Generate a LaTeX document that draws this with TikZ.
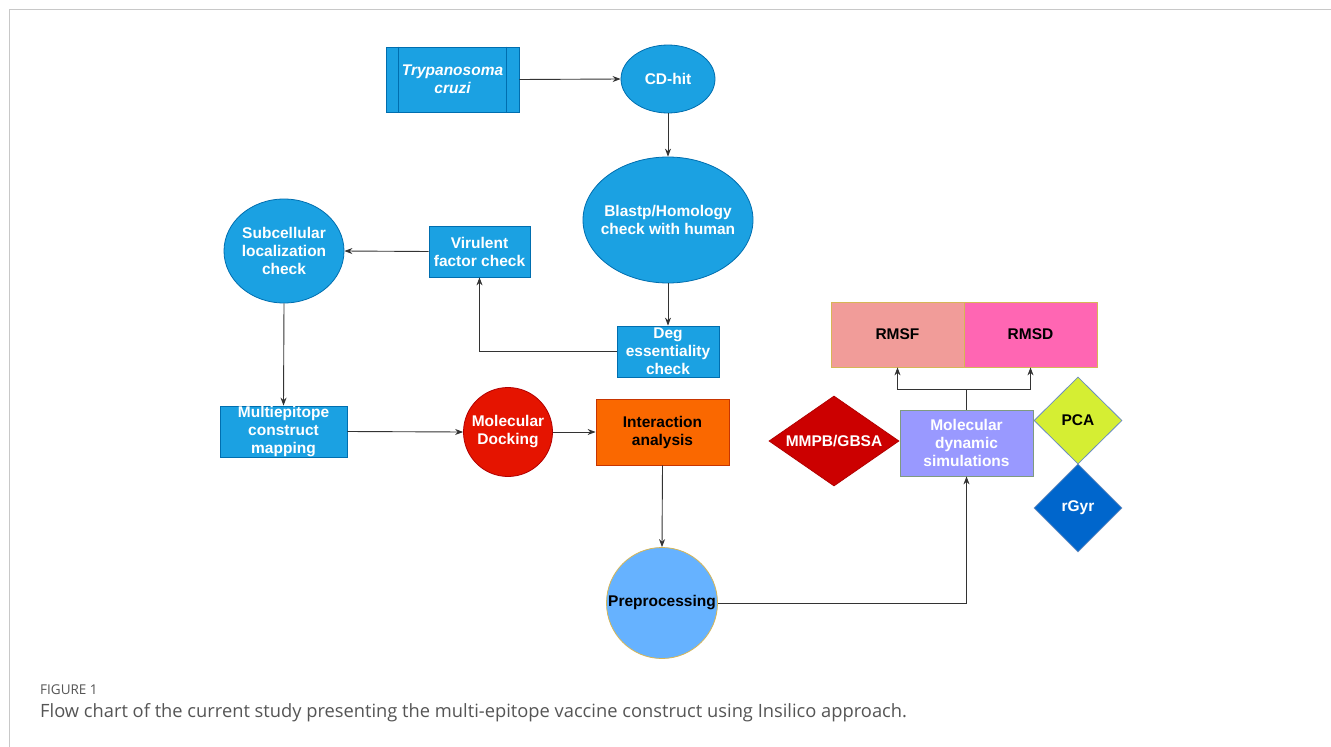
\documentclass[tikz,border=0pt]{standalone}
\usepackage{fontspec}
\setmainfont{Liberation Sans}
\newfontfamily\capfont{Open Sans}
\usetikzlibrary{shapes.geometric,arrows.meta,calc}
\definecolor{dblue}{HTML}{1BA1E2}
\definecolor{dbluel}{HTML}{006EAF}
\definecolor{dred}{HTML}{E51400}
\definecolor{dredl}{HTML}{B20000}
\definecolor{dorange}{HTML}{FA6800}
\definecolor{dorangel}{HTML}{C73500}
\definecolor{dviolet}{HTML}{9999FF}
\definecolor{dviolets}{HTML}{7F9A80}
\definecolor{drmsf}{HTML}{F19C99}
\definecolor{drmsd}{HTML}{FF66B3}
\definecolor{dgold}{HTML}{D6B656}
\definecolor{dmmpb}{HTML}{CC0000}
\definecolor{dpca}{HTML}{D5EE33}
\definecolor{dgyr}{HTML}{0066CC}
\definecolor{dlblue}{HTML}{66B2FF}
\definecolor{dstroke}{HTML}{6C8EBF}
\definecolor{capgray}{HTML}{555555}
\definecolor{framegray}{HTML}{C8C8C8}
\tikzset{
  lbl/.style={font=\bfseries\fontsize{15.5}{18}\selectfont, align=center, inner sep=0pt},
  wbox/.style={lbl, rectangle, draw=dbluel, fill=dblue, text=white, line width=0.8pt},
  wellip/.style={lbl, ellipse, draw=dbluel, fill=dblue, text=white, line width=0.8pt, inner sep=-20pt},
  conn/.style={draw=black!80, line width=0.9pt, -{Stealth[length=8pt,width=6pt]}},
  plain/.style={draw=black!80, line width=0.9pt},
}
\begin{document}
\begin{tikzpicture}[x=1pt,y=-1pt]
\useasboundingbox (0,0) rectangle (1331,747);
\fill[white] (0,0) rectangle (1331,747);
\draw[framegray, line width=1pt] (1331,9) -- (9,9) -- (9,747);

% nodes
\node[wbox, minimum width=133pt, minimum height=65pt] (tc) at (452.5,79.5) {\itshape Trypanosoma\\\itshape cruzi};
\draw[dbluel, line width=0.8pt] ($(tc.north west)+(13,0)$) -- ($(tc.south west)+(13,0)$);
\draw[dbluel, line width=0.8pt] ($(tc.north east)+(-13,0)$) -- ($(tc.south east)+(-13,0)$);
\node[wellip, minimum width=94pt, minimum height=68pt] (cd) at (668,79) {CD-hit};
\node[wellip, minimum width=170pt, minimum height=126pt] (bl) at (668,220) {Blastp/Homology\\check with human};
\node[wbox, minimum width=102pt, minimum height=51pt] (deg) at (668,351.5) {Deg\\essentiality\\check};
\node[wbox, minimum width=101pt, minimum height=51pt] (vir) at (479.5,251.5) {Virulent\\factor check};
\node[wellip, minimum width=120pt, minimum height=104pt] (sub) at (284,251) {Subcellular\\localization\\check};
\node[wbox, minimum width=127pt, minimum height=51pt] (mul) at (283.5,431.5) {Multiepitope\\construct\\mapping};
\node[lbl, circle, draw=dredl, fill=dred, text=white, line width=0.8pt, minimum size=89pt, inner sep=-20pt] (dock) at (508,432) {Molecular\\Docking};
\node[lbl, rectangle, draw=dorangel, fill=dorange, text=black, line width=0.8pt, minimum width=133pt, minimum height=66pt] (int) at (662.5,432) {Interaction\\analysis};
\node[lbl, circle, draw=dgold, fill=dlblue, text=black, line width=0.8pt, minimum size=111pt, inner sep=-20pt] (pre) at (662,603) {Preprocessing};
\node[lbl, rectangle, draw=dviolets, fill=dviolet, text=white, line width=0.8pt, minimum width=133pt, minimum height=66pt] (md) at (966.5,443) {Molecular\\dynamic\\simulations};
\node[lbl, rectangle, draw=dgold, fill=drmsf, text=black, line width=0.8pt, minimum width=133pt, minimum height=65pt] (rmsf) at (897.5,334.5) {RMSF};
\node[lbl, rectangle, draw=dgold, fill=drmsd, text=black, line width=0.8pt, minimum width=133pt, minimum height=65pt] (rmsd) at (1030.5,334.5) {RMSD};
\node[lbl, diamond, shape aspect=1.44, draw=dredl, fill=dmmpb, text=white, line width=0.8pt, minimum width=130pt, minimum height=90pt] (mmpb) at (834,441) {MMPB/GBSA};
\node[lbl, diamond, draw=dstroke, fill=dpca, text=black, line width=0.8pt, minimum width=88pt, minimum height=87pt] (pca) at (1078,420.5) {PCA};
\node[lbl, diamond, draw=dstroke, fill=dgyr, text=white, line width=0.8pt, minimum width=88pt, minimum height=88pt] (gyr) at (1078,508) {rGyr};

% connectors
\draw[conn] (tc.east) -- (cd.west);
\draw[conn] (cd.south) -- (bl.north);
\draw[conn] (bl.south) -- (deg.north);
\draw[conn] (deg.west) -| (vir.south);
\draw[conn] (vir.west) -- (sub.east);
\draw[conn] (sub.south) -- (mul.north);
\draw[conn] (mul.east) -- (dock.west);
\draw[conn] (dock.east) -- (int.west);
\draw[conn] (int.south) -- (pre.north);
\draw[conn] (pre.east) -| (md.south);
\coordinate (split) at (966.5,389);
\draw[plain] (md.north) -- (split);
\draw[conn] (split) -| (rmsf.south);
\draw[conn] (split) -| (rmsd.south);

% caption
\node[anchor=west, inner sep=0pt, text=capgray, font=\capfont\fontsize{13.5}{15}\selectfont] (fig) at (40,690) {FIGURE 1};
\node[anchor=west, inner sep=0pt, text=capgray, font=\capfont\fontsize{18.3}{21}\selectfont] (cap) at (40,713) {Flow chart of the current study presenting the multi-epitope vaccine construct using Insilico approach.};
\end{tikzpicture}
\end{document}
